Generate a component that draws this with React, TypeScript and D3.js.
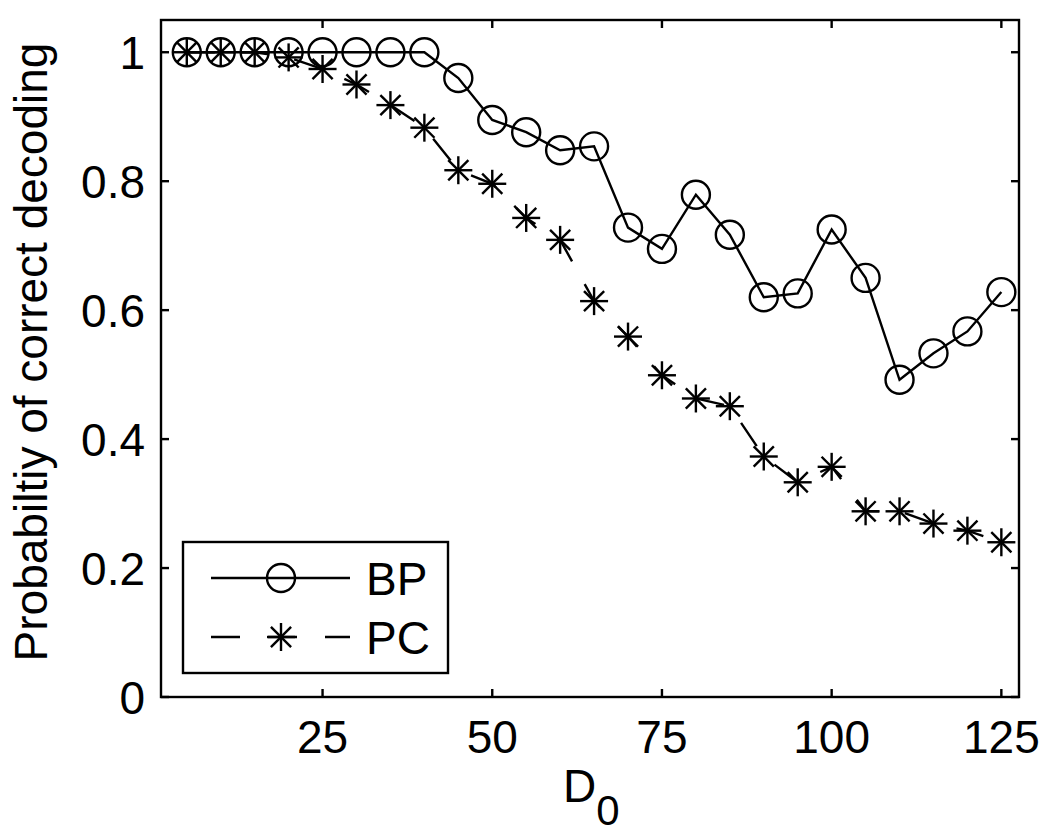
import React from "react";
import * as d3 from "d3";

const dValues = [5, 10, 15, 20, 25, 30, 35, 40, 45, 50, 55, 60, 65, 70, 75, 80, 85, 90, 95, 100, 105, 110, 115, 120, 125];
const bpValues = [1, 1, 1, 1, 1, 1, 1, 1, 0.96, 0.895, 0.876, 0.848, 0.854, 0.728, 0.695, 0.779, 0.717, 0.62, 0.626, 0.725, 0.65, 0.492, 0.533, 0.567, 0.628];
const pcValues = [1, 1, 1, 0.992, 0.974, 0.95, 0.918, 0.883, 0.817, 0.796, 0.743, 0.709, 0.614, 0.559, 0.499, 0.463, 0.451, 0.373, 0.333, 0.357, 0.288, 0.288, 0.269, 0.258, 0.24];
const xTicks = [25, 50, 75, 100, 125];
const yTicks = [0, 0.2, 0.4, 0.6, 0.8, 1];
const seriesNames = ["BP", "PC"];

const W = 1050;
const H = 834;
const left = 161;
const right = 1019;
const top = 20;
const bottom = 697;
const font = "'Liberation Sans', Arial, Helvetica, sans-serif";
const sw = 2.4;

const Asterisk = ({ x, y, r }: { x: number; y: number; r: number }) => {
  const d = r * 0.72;
  return (
    <g stroke="#000" strokeWidth={sw}>
      <line x1={x - r} y1={y} x2={x + r} y2={y} />
      <line x1={x} y1={y - r} x2={x} y2={y + r} />
      <line x1={x - d} y1={y - d} x2={x + d} y2={y + d} />
      <line x1={x - d} y1={y + d} x2={x + d} y2={y - d} />
    </g>
  );
};

export default function App() {
  const x = d3.scaleLinear().domain([1.2, 127.6]).range([left, right]);
  const y = d3.scaleLinear().domain([0, 1.05]).range([bottom, top]);
  const line = d3
    .line<number>()
    .x((_, i) => x(dValues[i]))
    .y((v) => y(v));

  const tick = 8;

  return (
    <svg
      width={W}
      height={H}
      style={{ position: "absolute", left: 0, top: 0, background: "#fff" }}
      fontFamily={font}
    >
      <rect x={0} y={0} width={W} height={H} fill="#fff" />

      {/* ticks */}
      {xTicks.map((t) => (
        <g key={"x" + t} stroke="#000" strokeWidth={sw}>
          <line x1={x(t)} x2={x(t)} y1={bottom} y2={bottom - tick} />
          <line x1={x(t)} x2={x(t)} y1={top} y2={top + tick} />
        </g>
      ))}
      {yTicks.map((t) => (
        <g key={"y" + t} stroke="#000" strokeWidth={sw}>
          <line x1={left} x2={left + tick} y1={y(t)} y2={y(t)} />
          <line x1={right} x2={right - tick} y1={y(t)} y2={y(t)} />
        </g>
      ))}

      {/* data */}
      <path d={line(bpValues) || ""} fill="none" stroke="#000" strokeWidth={sw} />
      <path
        d={line(pcValues) || ""}
        fill="none"
        stroke="#000"
        strokeWidth={sw}
        strokeDasharray="28,26"
      />
      {bpValues.map((v, i) => (
        <circle key={"c" + i} cx={x(dValues[i])} cy={y(v)} r={14} fill="none" stroke="#000" strokeWidth={sw} />
      ))}
      {pcValues.map((v, i) => (
        <Asterisk key={"a" + i} x={x(dValues[i])} y={y(v)} r={14} />
      ))}

      {/* box */}
      <rect x={left} y={top} width={right - left} height={bottom - top} fill="none" stroke="#000" strokeWidth={sw} />

      {/* tick labels */}
      {xTicks.map((t) => (
        <text key={"xl" + t} x={x(t)} y={753} textAnchor="middle" fontSize={46}>
          {t}
        </text>
      ))}
      {yTicks.map((t) => (
        <text key={"yl" + t} x={145} y={y(t)} dy="0.36em" textAnchor="end" fontSize={46}>
          {d3.format("~g")(t)}
        </text>
      ))}

      {/* axis labels */}
      <text x={563} y={802} fontSize={46}>
        D<tspan dy={23} fontSize={42}>0</tspan>
      </text>
      <text transform="translate(47,352) rotate(-90)" textAnchor="middle" fontSize={46}>
        Probabiltiy of correct decoding
      </text>

      {/* legend */}
      <rect x={183} y={542} width={265} height={131} fill="#fff" stroke="#000" strokeWidth={sw} />
      <line x1={211} x2={350} y1={578} y2={578} stroke="#000" strokeWidth={sw} />
      <circle cx={281} cy={578} r={14} fill="none" stroke="#000" strokeWidth={sw} />
      <line x1={211} x2={350} y1={637} y2={637} stroke="#000" strokeWidth={sw} strokeDasharray="29,28" />
      <Asterisk x={281} y={637} r={14} />
      <text x={366} y={595} fontSize={46}>
        {seriesNames[0]}
      </text>
      <text x={366} y={654} fontSize={46}>
        {seriesNames[1]}
      </text>
    </svg>
  );
}
